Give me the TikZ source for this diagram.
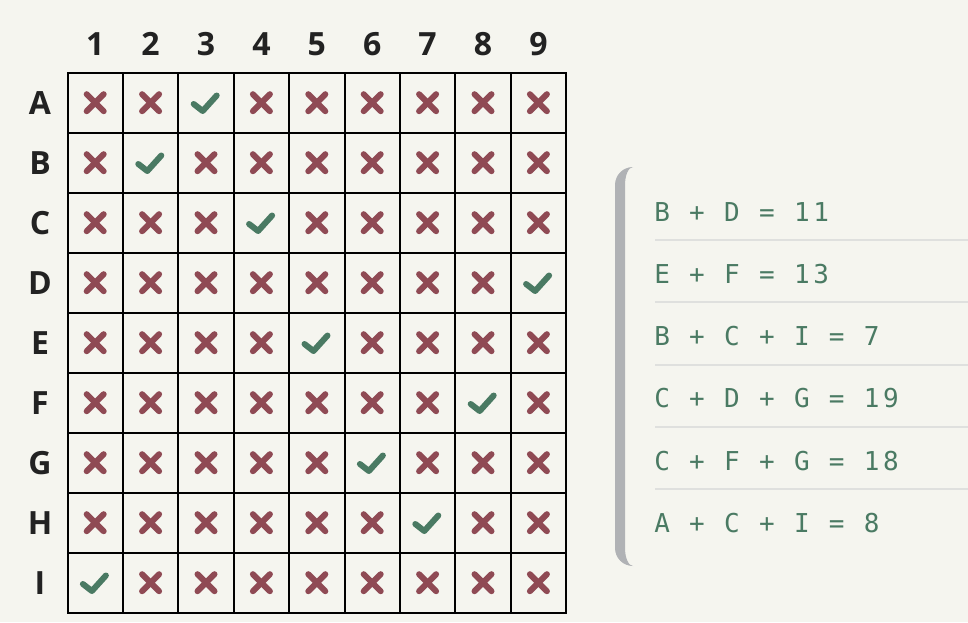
\documentclass[tikz,border=0pt]{standalone}
\usepackage{fontspec}
\setmainfont{Open Sans}
\newfontfamily\eqfont{DejaVu Sans Mono}[LetterSpace=14]

\definecolor{bgcol}{RGB}{245,245,239}
\definecolor{checkcol}{RGB}{74,122,99}
\definecolor{crosscol}{RGB}{143,74,84}
\definecolor{barcol}{RGB}{176,178,181}
\definecolor{sepcol}{RGB}{223,224,222}
\definecolor{labelcol}{RGB}{34,34,34}

\tikzset{
  cellbox/.style={draw=black, line width=1.5pt, minimum width=41.55pt, minimum height=45pt, inner sep=0pt, outer sep=0pt},
  headlabel/.style={anchor=base, inner sep=0pt, text=labelcol, font=\fontsize{24}{28}\selectfont\bfseries},
  crossmark/.style={draw=crosscol, line width=4.5pt, line cap=round},
  checkmark/.style={draw=checkcol, line width=4.5pt, line cap=round, line join=round},
  eqlabel/.style={anchor=base west, inner sep=0pt, text=checkcol, font=\eqfont\fontsize{19.5}{24}\selectfont},
  sepline/.style={draw=sepcol, line width=1.5pt},
}

\begin{document}
\begin{tikzpicture}[x=0.75pt,y=0.75pt,yscale=-1,xscale=1]
%set diagram left start at 0, and has height of 622
\fill [bgcol] (0,0) rectangle (968,622);
\useasboundingbox (0,0) rectangle (968,622);

% Column headers
\foreach \c in {1,...,9} {
  \pgfmathsetmacro{\cx}{67.5+55.4*(\c-0.5)}
  \node [headlabel] (col\c) at (\cx,55) {\c};
}

% Rows: label, cells and marks (\k is the column with the check)
\foreach \r/\k [count=\i] in {A/3,B/2,C/4,D/9,E/5,F/8,G/6,H/7,I/1} {
  \pgfmathsetmacro{\cy}{72.7+60*(\i-0.5)}
  \node [headlabel] (row\r) at (40,\cy+11.8) {\r};
  \foreach \c in {1,...,9} {
    \pgfmathsetmacro{\cx}{67.5+55.4*(\c-0.5)}
    \node [cellbox] (\r\c) at (\cx,\cy) {};
    \ifnum\c=\k
      \draw [checkmark] (\cx-12.3,\cy+1.3) -- (\cx-3.3,\cy+8.3) -- (\cx+10.7,\cy-7.2);
    \else
      \draw [crossmark] (\cx-8.5,\cy-8.5) -- (\cx+8.5,\cy+8.5);
      \draw [crossmark] (\cx-8.5,\cy+8.5) -- (\cx+8.5,\cy-8.5);
    \fi
  }
}

%Shape: Panel bar
\fill [barcol] (633,167) .. controls (623,167) and (615,175) .. (615,185) -- (615,548) .. controls (615,558) and (623,566) .. (633,566) .. controls (628.6,566) and (625,558) .. (625,548) -- (625,185) .. controls (625,175) and (628.6,167) .. (633,167) -- cycle ;

% Separators
\foreach \j in {1,...,5} {
  \draw [sepline] (655,240+62.25*\j-62.25) -- (968,240+62.25*\j-62.25);
}

% Text Node
\foreach \t [count=\j] in {B + D = 11,E + F = 13,B + C + I = 7,C + D + G = 19,C + F + G = 18,A + C + I = 8} {
  \node [eqlabel] (eq\j) at (654,221+62.25*\j-62.25) {\t};
}

\end{tikzpicture}
\end{document}
